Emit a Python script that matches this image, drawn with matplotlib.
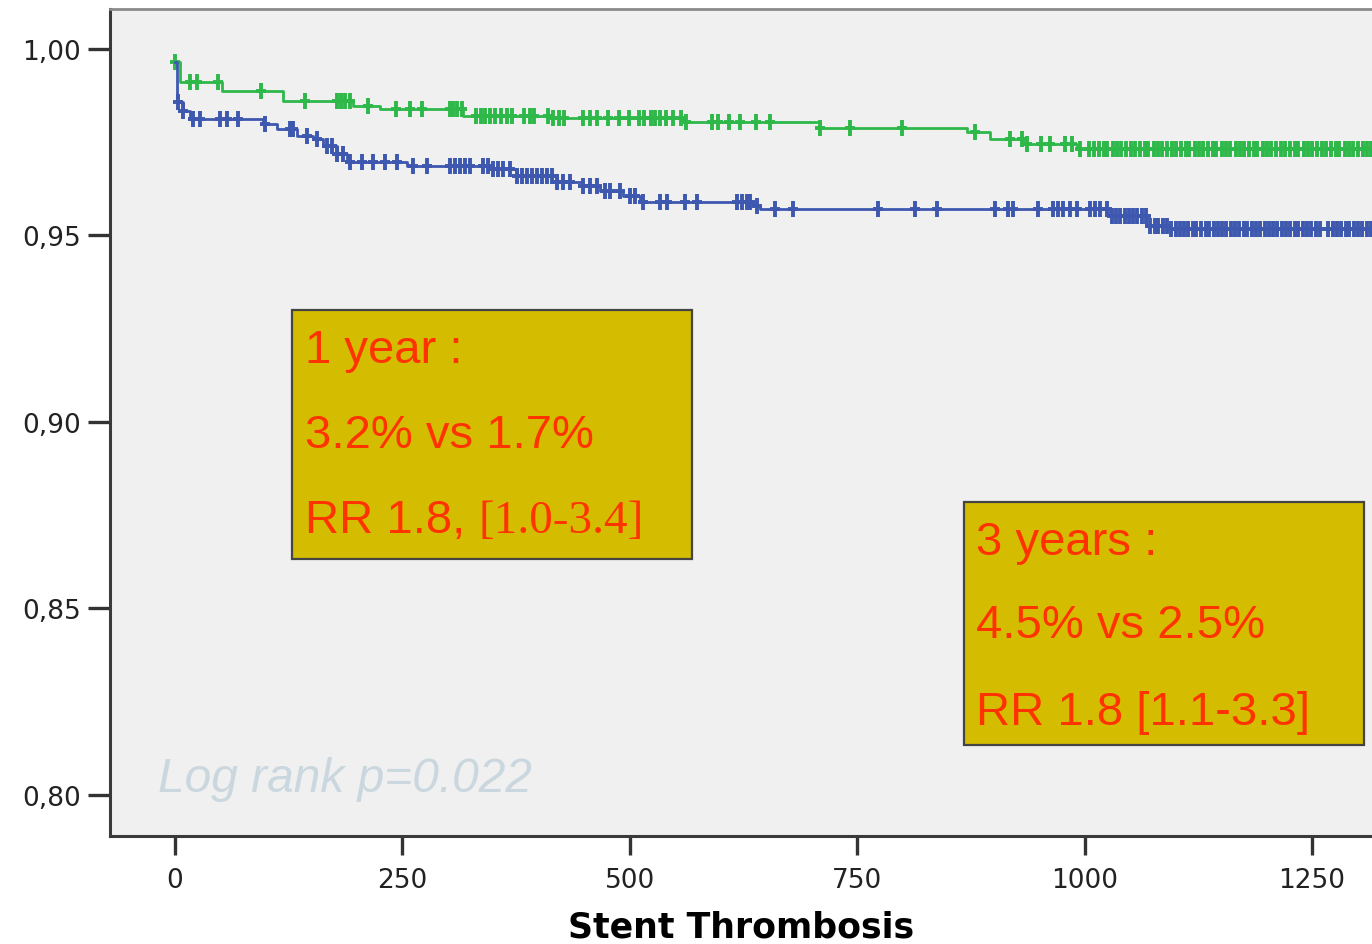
import numpy as np
import matplotlib
matplotlib.use("Agg")
from matplotlib import pyplot as plt
from matplotlib.patches import Rectangle
from matplotlib.path import Path
from matplotlib.ticker import FuncFormatter

# Kaplan-Meier steps (days, survival after the step)
green_times = [0, 5, 52, 119, 196, 225, 317, 412, 558, 709, 871, 896, 932, 992]
green_surv = [0.9965, 0.9912, 0.9887, 0.9861, 0.9847, 0.9839, 0.9820, 0.9814,
              0.9804, 0.9788, 0.9778, 0.9759, 0.9745, 0.9732]
green_end = 1316

blue_times = [0, 2, 9, 16, 97, 112, 134, 152, 163, 178, 189, 255, 350, 376, 420,
              449, 467, 492, 511, 635, 643, 1028, 1068, 1094]
blue_surv = [0.9965, 0.9858, 0.9834, 0.9812, 0.9799, 0.9786, 0.9767, 0.9759, 0.9740,
             0.9719, 0.9697, 0.9686, 0.9678, 0.9660, 0.9643, 0.9633, 0.9619, 0.9606,
             0.9590, 0.9579, 0.9571, 0.9552, 0.9526, 0.9517]
blue_end = 1316

# censored observations (days)
green_censor = [0, 16, 24, 47, 94, 143, 178, 183, 187, 192, 212, 243, 258, 272, 302, 306,
                310, 315, 331, 336, 341, 346, 352, 358, 365, 371, 384, 390, 395, 410, 416,
                422, 428, 449, 456, 464, 476, 488, 499, 510, 516, 523, 528, 533, 540, 547,
                556, 562, 590, 597, 609, 621, 639, 654, 709, 742, 799, 880, 918, 931, 937,
                952, 962, 978, 986, 995, 1005, 1010, 1016, 1021, 1025, 1031, 1036, 1040,
                1046, 1051, 1055, 1061, 1066, 1070, 1076, 1081, 1085, 1091, 1096, 1100,
                1106, 1111, 1115, 1121, 1126, 1130, 1136, 1141, 1145, 1151, 1156, 1160,
                1166, 1171, 1175, 1181, 1186, 1190, 1196, 1201, 1205, 1211, 1216, 1220,
                1226, 1231, 1235, 1241, 1246, 1250, 1256, 1261, 1265, 1271, 1276, 1280,
                1286, 1291, 1295, 1301, 1306, 1310, 1315]
blue_censor = [3, 9, 20, 27, 49, 57, 69, 99, 126, 130, 145, 156, 167, 173, 178, 185, 192,
               206, 218, 231, 244, 262, 277, 302, 308, 313, 319, 324, 339, 344, 350, 355,
               361, 368, 376, 381, 387, 392, 398, 403, 409, 414, 420, 427, 434, 449, 456,
               464, 473, 478, 489, 500, 506, 515, 533, 541, 561, 574, 618, 623, 629, 632,
               640, 660, 679, 773, 814, 838, 902, 916, 921, 949, 965, 971, 976, 984, 992,
               1006, 1011, 1017, 1025, 1030, 1035, 1039, 1044, 1049, 1053, 1058, 1063,
               1067, 1072, 1077, 1081, 1086, 1091, 1095, 1100, 1105, 1109, 1114, 1119,
               1123, 1128, 1133, 1137, 1142, 1147, 1151, 1156, 1161, 1165, 1170, 1175,
               1179, 1184, 1189, 1193, 1198, 1203, 1207, 1212, 1217, 1221, 1226, 1231,
               1235, 1240, 1245, 1249, 1254, 1259, 1268, 1273, 1277, 1282, 1287, 1291,
               1296, 1301, 1305, 1310, 1315]

x_ticks = [0, 250, 500, 750, 1000, 1250]
y_ticks = [0.80, 0.85, 0.90, 0.95, 1.00]

box_1year = ["1 year :", "3.2% vs 1.7%", "RR 1.8, ", "[1.0-3.4]"]
box_3year = ["3 years :", "4.5% vs 2.5%", "RR 1.8 [1.1-3.3]"]
logrank_text = "Log rank p=0.022"
x_label = "Stent Thrombosis"

GREEN = "#2fb84a"
BLUE = "#3d58ae"
BOX_FILL = "#d4bd00"
RED = "#ff3300"

# SPSS style censor tick: tall bar with a short cross arm
censor_mark = Path([(0, -1), (0, 1), (-0.6, 0), (0.6, 0)],
                   [Path.MOVETO, Path.LINETO, Path.MOVETO, Path.LINETO])


def km_curve(ax, times, surv, end, censor, color):
    t = np.append(times, end)
    s = np.append(surv, surv[-1])
    ax.step(t, s, where="post", color=color, lw=2.0, zorder=3)
    idx = np.searchsorted(times, censor, side="right") - 1
    cy = np.asarray(surv)[idx]
    ax.plot(censor, cy, ls="none", marker=censor_mark, ms=11, mew=2.8, color=color,
            zorder=3)


fig = plt.figure(figsize=(13.72, 9.45), dpi=100)
ax = fig.add_axes([110 / 1372, 1 - 837 / 945, 1 - 110 / 1372, (837 - 10) / 945])
ax.set_facecolor("#f0f0f0")

km_curve(ax, green_times, green_surv, green_end, green_censor, GREEN)
km_curve(ax, blue_times, blue_surv, blue_end, blue_censor, BLUE)

ax.set_xlim(-71.5, 1316)
ax.set_ylim(0.789, 1.0107)

ax.set_xticks(x_ticks)
ax.set_yticks(y_ticks)
ax.yaxis.set_major_formatter(FuncFormatter(lambda v, p: f"{v:.2f}".replace(".", ",")))
ax.tick_params(axis="y", length=16, width=2.4, color="#333333", pad=5,
               labelsize=19, labelcolor="#222222")
ax.tick_params(axis="x", length=14, width=2.4, color="#333333", pad=8,
               labelsize=19, labelcolor="#222222")

for side in ["left", "bottom"]:
    ax.spines[side].set_linewidth(2.2)
    ax.spines[side].set_color("#3a3a3a")
ax.spines["top"].set_linewidth(2.0)
ax.spines["top"].set_color("#8a8a8a")
ax.spines["right"].set_visible(False)

ax.set_xlabel(x_label, fontsize=25, fontweight="bold", labelpad=12)

# annotation boxes
ax.add_patch(Rectangle((128.6, 0.86327), 568.4 - 128.6, 0.93003 - 0.86327,
                       facecolor=BOX_FILL, edgecolor="#444444", lw=1.6, zorder=4))
ax.add_patch(Rectangle((867.4, 0.81340), 1307.2 - 867.4, 0.87855 - 0.81340,
                       facecolor=BOX_FILL, edgecolor="#444444", lw=1.6, zorder=4))

sans = "Liberation Sans"
for txt, yb in zip(box_1year[:3], [0.91609, 0.89330, 0.87051]):
    t = ax.text(142.9, yb, txt, fontsize=34, family=sans, color=RED, va="baseline",
                zorder=5)
ax.annotate(box_1year[3], xy=(1, 0), xycoords=t, va="bottom", ha="left",
            fontsize=34, family="Liberation Serif", color=RED, zorder=5)

for txt, yb in zip(box_3year, [0.86461, 0.84236, 0.81903]):
    ax.text(880.6, yb, txt, fontsize=34, family=sans, color=RED, va="baseline", zorder=5)

ax.text(-18.7, 0.80107, logrank_text, fontsize=34.5, family=sans, style="italic",
        color="#cbd7df", va="baseline", zorder=5)

fig.savefig("out.png", dpi=100)
